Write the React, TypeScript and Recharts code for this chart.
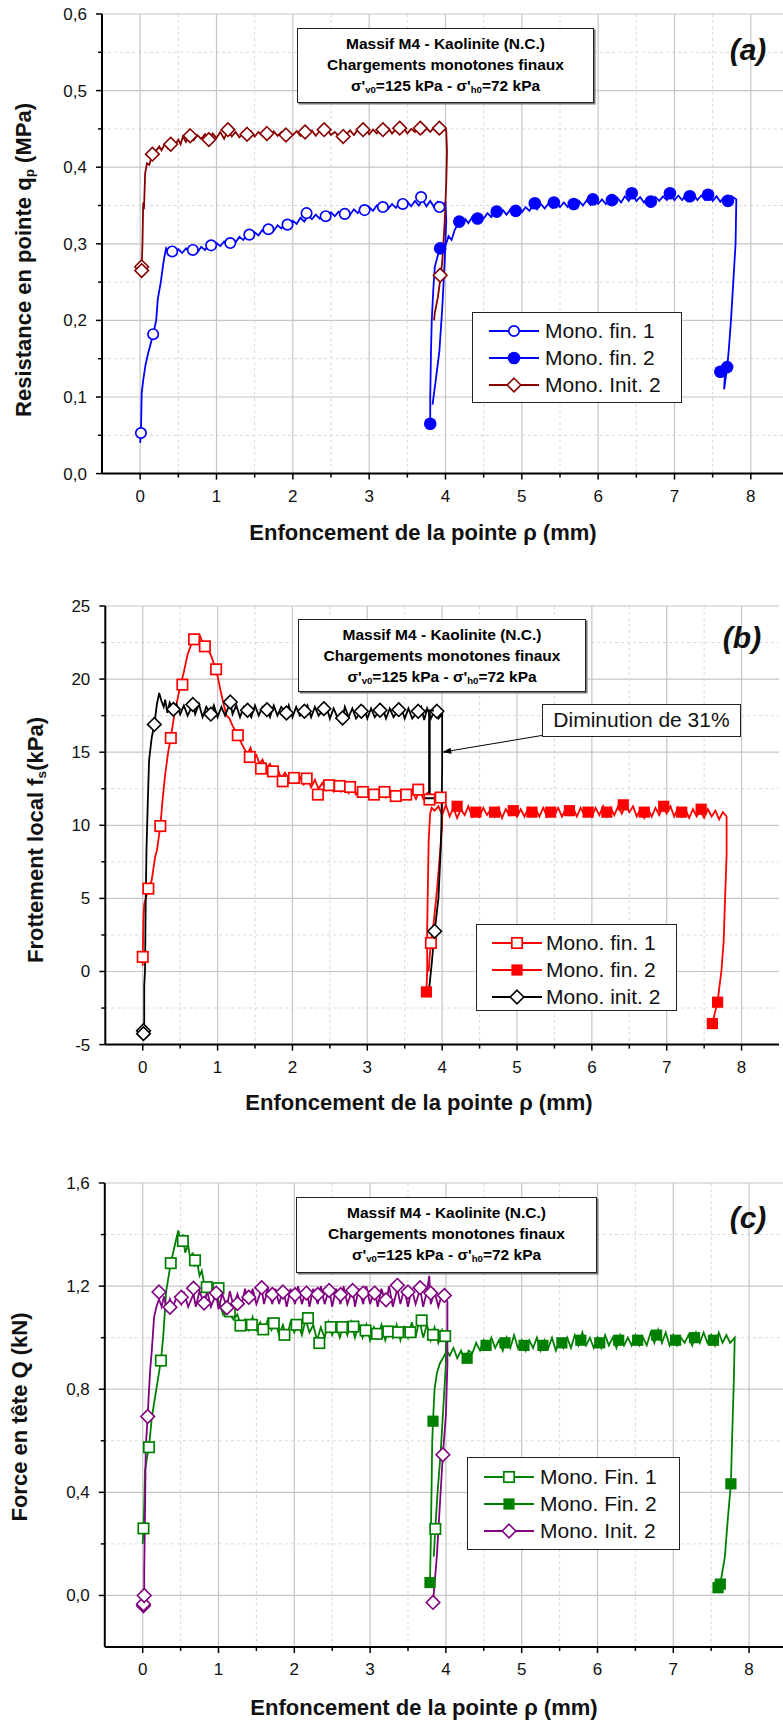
import React from "react";
import { CartesianGrid, ComposedChart, Line, XAxis, YAxis } from "recharts";

type Pt = [number, number];
type MarkKind = "circle" | "disc" | "square" | "block" | "diamond";

const FONT = '"Liberation Sans", Arial, sans-serif';

// shared x axis (enfoncement, mm)
const xDomain: [number, number] = [-0.5, 8.5];
const xMajor = [0, 1, 2, 3, 4, 5, 6, 7, 8];
const xMinor = [0.5, 1.5, 2.5, 3.5, 4.5, 5.5, 6.5, 7.5];

// ---------- (a) resistance en pointe qp (MPa)
const aYMajor = [0, 0.1, 0.2, 0.3, 0.4, 0.5, 0.6];
const aYMinor = [0.05, 0.15, 0.25, 0.35, 0.45, 0.55];

const aFin1Line: Pt[] = [
  [0.0, 0.04], [0.01, 0.053], [0.02, 0.105], [0.04, 0.122], [0.07, 0.142], [0.105, 0.157], [0.17, 0.182],
  [0.21, 0.2], [0.23, 0.227], [0.27, 0.25], [0.31, 0.279], [0.34, 0.294], [0.38, 0.287], [0.42, 0.292],
  [0.46, 0.286], [0.5, 0.293], [0.55, 0.288], [0.6, 0.294], [0.65, 0.289], [0.7, 0.295], [0.75, 0.289],
  [0.8, 0.296], [0.85, 0.292], [0.9, 0.298], [0.95, 0.294], [1.0, 0.301], [1.05, 0.297], [1.1, 0.303],
  [1.15, 0.299], [1.2, 0.306], [1.25, 0.302], [1.3, 0.309], [1.35, 0.305], [1.4, 0.312], [1.45, 0.308],
  [1.5, 0.315], [1.55, 0.311], [1.6, 0.318], [1.65, 0.314], [1.7, 0.321], [1.75, 0.317], [1.8, 0.324],
  [1.85, 0.32], [1.9, 0.327], [1.95, 0.322], [2.0, 0.33], [2.05, 0.326], [2.1, 0.334], [2.15, 0.329],
  [2.2, 0.337], [2.25, 0.332], [2.3, 0.338], [2.35, 0.333], [2.4, 0.34], [2.45, 0.335], [2.5, 0.341],
  [2.55, 0.336], [2.6, 0.342], [2.65, 0.337], [2.7, 0.343], [2.75, 0.338], [2.8, 0.345], [2.85, 0.34],
  [2.9, 0.346], [2.95, 0.342], [3.0, 0.348], [3.05, 0.343], [3.1, 0.35], [3.15, 0.344], [3.2, 0.351],
  [3.25, 0.346], [3.3, 0.352], [3.35, 0.347], [3.4, 0.354], [3.45, 0.348], [3.5, 0.355], [3.55, 0.349],
  [3.6, 0.356], [3.65, 0.35], [3.7, 0.357], [3.75, 0.349], [3.8, 0.356], [3.85, 0.348], [3.9, 0.355],
  [3.95, 0.349], [4.0, 0.354], [4.01, 0.33], [3.99, 0.28], [3.96, 0.22], [3.92, 0.16], [3.87, 0.12], [3.83, 0.09],
];
const aFin1Marks: Pt[] = [
  [0.01, 0.053], [0.17, 0.182], [0.42, 0.29], [0.69, 0.292], [0.93, 0.298], [1.18, 0.301], [1.43, 0.312],
  [1.68, 0.319], [1.93, 0.325], [2.18, 0.34], [2.43, 0.336], [2.68, 0.339], [2.94, 0.344], [3.18, 0.348],
  [3.44, 0.352], [3.68, 0.361], [3.92, 0.348],
];

const aFin2Line: Pt[] = [
  [3.8, 0.065], [3.8, 0.1], [3.81, 0.16], [3.82, 0.2], [3.84, 0.24], [3.86, 0.27], [3.9, 0.285], [3.93, 0.294],
  [3.97, 0.3], [4.0, 0.298], [4.04, 0.31], [4.08, 0.305], [4.12, 0.318], [4.18, 0.329], [4.22, 0.324],
  [4.26, 0.332], [4.3, 0.327], [4.35, 0.335], [4.4, 0.331], [4.45, 0.337], [4.5, 0.333], [4.55, 0.34],
  [4.6, 0.335], [4.65, 0.342], [4.7, 0.337], [4.75, 0.344], [4.8, 0.338], [4.85, 0.345], [4.9, 0.34],
  [4.95, 0.347], [5.0, 0.341], [5.05, 0.348], [5.1, 0.343], [5.15, 0.351], [5.2, 0.345], [5.25, 0.352],
  [5.3, 0.346], [5.35, 0.353], [5.4, 0.347], [5.45, 0.354], [5.5, 0.348], [5.55, 0.354], [5.6, 0.348],
  [5.65, 0.355], [5.7, 0.349], [5.75, 0.356], [5.8, 0.35], [5.85, 0.357], [5.9, 0.351], [5.95, 0.358],
  [6.0, 0.352], [6.05, 0.358], [6.1, 0.352], [6.15, 0.359], [6.2, 0.353], [6.25, 0.36], [6.3, 0.354],
  [6.35, 0.362], [6.4, 0.356], [6.45, 0.365], [6.5, 0.356], [6.55, 0.361], [6.6, 0.354], [6.65, 0.36],
  [6.7, 0.355], [6.75, 0.361], [6.8, 0.356], [6.85, 0.362], [6.9, 0.357], [6.95, 0.365], [7.0, 0.357],
  [7.05, 0.363], [7.1, 0.357], [7.15, 0.364], [7.2, 0.358], [7.25, 0.364], [7.3, 0.357], [7.35, 0.363],
  [7.4, 0.357], [7.45, 0.364], [7.5, 0.356], [7.55, 0.362], [7.6, 0.355], [7.65, 0.361], [7.7, 0.355],
  [7.75, 0.362], [7.81, 0.358], [7.8, 0.3], [7.77, 0.25], [7.74, 0.2], [7.71, 0.16], [7.69, 0.139],
  [7.65, 0.11], [7.66, 0.13], [7.6, 0.133],
];
const aFin2Marks: Pt[] = [
  [3.8, 0.065], [3.93, 0.294], [4.18, 0.329], [4.42, 0.333], [4.67, 0.342], [4.92, 0.343], [5.17, 0.353],
  [5.42, 0.354], [5.68, 0.352], [5.93, 0.358], [6.18, 0.357], [6.44, 0.366], [6.69, 0.355], [6.94, 0.366],
  [7.2, 0.362], [7.44, 0.364], [7.7, 0.356], [7.69, 0.139], [7.6, 0.133],
];

const aInit2Line: Pt[] = [
  [0.0, 0.265], [0.01, 0.27], [0.02, 0.268], [0.03, 0.3], [0.04, 0.354], [0.05, 0.345], [0.065, 0.392],
  [0.09, 0.405], [0.12, 0.403], [0.16, 0.417], [0.2, 0.42], [0.25, 0.427], [0.28, 0.422], [0.32, 0.43],
  [0.36, 0.425], [0.4, 0.432], [0.45, 0.428], [0.5, 0.436], [0.53, 0.43], [0.56, 0.44], [0.6, 0.433],
  [0.65, 0.441], [0.7, 0.435], [0.75, 0.442], [0.8, 0.437], [0.85, 0.443], [0.9, 0.436], [0.95, 0.444],
  [1.0, 0.438], [1.05, 0.446], [1.1, 0.437], [1.15, 0.448], [1.2, 0.44], [1.25, 0.446], [1.3, 0.439],
  [1.35, 0.445], [1.4, 0.442], [1.45, 0.447], [1.5, 0.44], [1.55, 0.446], [1.6, 0.441], [1.65, 0.445],
  [1.7, 0.439], [1.75, 0.447], [1.8, 0.441], [1.85, 0.446], [1.9, 0.44], [1.95, 0.445], [2.0, 0.442],
  [2.05, 0.447], [2.1, 0.441], [2.15, 0.446], [2.2, 0.443], [2.25, 0.448], [2.3, 0.441], [2.35, 0.447],
  [2.4, 0.443], [2.45, 0.449], [2.5, 0.442], [2.55, 0.446], [2.6, 0.441], [2.65, 0.447], [2.7, 0.443],
  [2.75, 0.448], [2.8, 0.442], [2.85, 0.449], [2.9, 0.444], [2.95, 0.45], [3.0, 0.443], [3.05, 0.449],
  [3.1, 0.444], [3.15, 0.45], [3.2, 0.445], [3.25, 0.451], [3.3, 0.444], [3.35, 0.45], [3.4, 0.445],
  [3.45, 0.452], [3.5, 0.444], [3.55, 0.45], [3.6, 0.446], [3.65, 0.452], [3.7, 0.445], [3.75, 0.451],
  [3.8, 0.446], [3.85, 0.452], [3.9, 0.445], [3.95, 0.451], [4.01, 0.448], [4.02, 0.42], [4.01, 0.38],
  [3.99, 0.33], [3.96, 0.28], [3.94, 0.26], [3.9, 0.23], [3.86, 0.21], [3.85, 0.2],
];
const aInit2Marks: Pt[] = [
  [0.02, 0.27], [0.02, 0.265], [0.16, 0.417], [0.4, 0.43], [0.655, 0.441], [0.9, 0.436], [1.15, 0.449],
  [1.4, 0.443], [1.66, 0.444], [1.91, 0.442], [2.16, 0.446], [2.41, 0.449], [2.66, 0.44], [2.92, 0.449],
  [3.18, 0.449], [3.4, 0.451], [3.67, 0.451], [3.92, 0.451], [3.93, 0.259],
];

// ---------- (b) frottement local fs (kPa)
const bYMajor = [-5, 0, 5, 10, 15, 20, 25];
const bYMinor = [-2.5, 2.5, 7.5, 12.5, 17.5, 22.5];

const bFin1Line: Pt[] = [
  [0.0, 0.4], [0.0, 1.0], [0.01, 3.7], [0.02, 4.6], [0.075, 5.67], [0.12, 6.24], [0.165, 7.83], [0.19, 8.3],
  [0.235, 9.95], [0.27, 12], [0.3, 13.5], [0.34, 15], [0.375, 16], [0.42, 17.5], [0.46, 18.5], [0.5, 19.5],
  [0.55, 20.5], [0.6, 21.7], [0.65, 22.4], [0.69, 22.9], [0.72, 22.5], [0.76, 23.0], [0.8, 22.5],
  [0.84, 22.4], [0.88, 22.0], [0.92, 21.5], [0.96, 20.9], [1.0, 20.2], [1.04, 19.2], [1.08, 18.3],
  [1.12, 17.5], [1.16, 17.3], [1.2, 16.8], [1.27, 16.2], [1.32, 15.6], [1.36, 15.2], [1.4, 14.9],
  [1.44, 15.3], [1.48, 14.5], [1.52, 14.8], [1.56, 14.2], [1.6, 14.5], [1.65, 13.9], [1.7, 14.2],
  [1.75, 13.6], [1.8, 13.9], [1.85, 13.2], [1.9, 13.6], [1.95, 13.1], [2.0, 13.5], [2.05, 12.9],
  [2.1, 13.3], [2.15, 12.8], [2.2, 13.2], [2.25, 12.6], [2.3, 13.1], [2.35, 12.5], [2.4, 12.9],
  [2.45, 12.4], [2.5, 12.8], [2.55, 12.3], [2.6, 12.7], [2.65, 12.3], [2.7, 12.7], [2.75, 12.2],
  [2.8, 12.6], [2.85, 12.1], [2.9, 12.5], [2.95, 12.1], [3.0, 12.5], [3.05, 12.0], [3.1, 12.4],
  [3.15, 12.0], [3.2, 12.4], [3.25, 11.9], [3.3, 12.4], [3.35, 11.9], [3.4, 12.3], [3.45, 11.9],
  [3.5, 12.3], [3.55, 11.8], [3.6, 12.3], [3.65, 11.8], [3.7, 12.4], [3.75, 11.8], [3.8, 12.2],
  [3.85, 11.7], [3.9, 12.1], [3.95, 11.8], [4.0, 11.9], [4.0, 10], [3.97, 8], [3.93, 5.5], [3.89, 3.5],
  [3.85, 1.95], [3.83, 0.8], [3.82, 0],
];
const bFin1Marks: Pt[] = [
  [0.0, 1.0], [0.075, 5.67], [0.235, 9.95], [0.375, 15.97], [0.53, 19.62], [0.686, 22.72], [0.83, 22.24],
  [0.98, 20.67], [1.27, 16.16], [1.43, 14.67], [1.58, 13.88], [1.74, 13.69], [1.87, 13.01], [2.02, 13.24],
  [2.19, 13.2], [2.34, 12.1], [2.49, 12.74], [2.63, 12.69], [2.77, 12.62], [2.94, 12.28], [3.09, 12.1],
  [3.23, 12.28], [3.38, 12.0], [3.52, 12.1], [3.68, 12.44], [3.83, 11.76], [3.98, 11.9], [3.85, 1.95],
];

const bFin2Line: Pt[] = [
  [3.79, -1.4], [3.8, 0], [3.8, 3], [3.81, 6], [3.82, 9], [3.84, 10.8], [3.86, 11.2], [3.9, 11.0],
  [3.95, 11.3], [4.0, 10.7], [4.05, 11.4], [4.1, 10.6], [4.15, 11.2], [4.2, 10.5], [4.25, 11.1],
  [4.3, 10.7], [4.35, 11.3], [4.4, 10.6], [4.45, 11.1], [4.5, 10.6], [4.55, 11.2], [4.6, 10.7],
  [4.65, 11.1], [4.7, 10.6], [4.75, 11.2], [4.8, 10.5], [4.85, 11.1], [4.9, 10.7], [4.95, 11.2],
  [5.0, 10.6], [5.05, 11.1], [5.1, 10.6], [5.15, 11.2], [5.2, 10.7], [5.25, 11.1], [5.3, 10.6],
  [5.35, 11.2], [5.4, 10.6], [5.45, 11.1], [5.5, 10.7], [5.55, 11.2], [5.6, 10.6], [5.65, 11.1],
  [5.7, 10.7], [5.75, 11.2], [5.8, 10.6], [5.85, 11.2], [5.9, 10.7], [5.95, 11.1], [6.0, 10.6],
  [6.05, 11.2], [6.1, 10.7], [6.15, 11.3], [6.2, 10.6], [6.25, 11.2], [6.3, 10.7], [6.35, 11.3],
  [6.4, 10.8], [6.45, 11.4], [6.5, 10.9], [6.55, 11.3], [6.6, 10.6], [6.65, 11.1], [6.7, 10.5],
  [6.75, 11.1], [6.8, 10.6], [6.85, 11.2], [6.9, 10.7], [6.95, 11.3], [7.0, 10.8], [7.05, 11.3],
  [7.1, 10.6], [7.15, 11.2], [7.2, 10.6], [7.25, 11.1], [7.3, 10.5], [7.35, 11.1], [7.4, 10.6],
  [7.45, 11.0], [7.5, 10.5], [7.55, 11.1], [7.6, 10.6], [7.65, 11.0], [7.7, 10.4], [7.75, 10.9],
  [7.8, 10.6], [7.8, 8], [7.78, 5], [7.76, 2], [7.73, 0], [7.7, -1.2], [7.68, -2.1], [7.64, -2.9],
  [7.61, -3.56],
];
const bFin2Marks: Pt[] = [
  [3.79, -1.4], [4.2, 11.3], [4.45, 10.9], [4.7, 10.9], [4.95, 11.0], [5.2, 10.9], [5.45, 10.9],
  [5.7, 11.0], [5.95, 10.9], [6.2, 10.9], [6.42, 11.4], [6.7, 10.9], [6.96, 11.3], [7.2, 10.9],
  [7.46, 11.1], [7.68, -2.1], [7.61, -3.56],
];

const bInit2Line: Pt[] = [
  [0.01, -4.25], [0.02, -3.45], [0.02, -1], [0.03, 0], [0.04, 4.87], [0.05, 8.3], [0.07, 12],
  [0.085, 14.45], [0.12, 16], [0.155, 16.9], [0.19, 18.3], [0.22, 19.05], [0.25, 18.5], [0.28, 18.1],
  [0.3, 18.6], [0.33, 17.7], [0.36, 18.4], [0.41, 17.93], [0.45, 18.3], [0.5, 17.6], [0.55, 18.2],
  [0.6, 17.5], [0.67, 18.26], [0.7, 17.6], [0.75, 18.3], [0.8, 17.4], [0.85, 18.1], [0.91, 17.6],
  [0.95, 18.2], [1.0, 17.4], [1.05, 18.1], [1.1, 17.5], [1.17, 18.43], [1.2, 17.6], [1.25, 18.2],
  [1.3, 17.4], [1.35, 18.1], [1.4, 17.87], [1.45, 17.4], [1.5, 18.2], [1.55, 17.5], [1.6, 18.1],
  [1.66, 17.91], [1.7, 17.4], [1.75, 18.2], [1.8, 17.5], [1.85, 18.1], [1.92, 17.68], [1.95, 18.2],
  [2.0, 17.4], [2.05, 18.1], [2.1, 17.5], [2.16, 17.8], [2.2, 18.2], [2.25, 17.4], [2.3, 18.1],
  [2.35, 17.5], [2.42, 17.98], [2.45, 18.2], [2.5, 17.3], [2.55, 18.0], [2.6, 17.4], [2.67, 17.34],
  [2.7, 18.1], [2.75, 17.4], [2.8, 18.0], [2.85, 17.3], [2.92, 17.8], [2.95, 18.1], [3.0, 17.3],
  [3.05, 18.0], [3.1, 17.4], [3.17, 17.87], [3.2, 18.1], [3.25, 17.3], [3.3, 18.0], [3.35, 17.4],
  [3.42, 17.91], [3.45, 18.1], [3.5, 17.3], [3.55, 18.0], [3.6, 17.3], [3.68, 17.8], [3.72, 18.1],
  [3.76, 17.2], [3.8, 18.0], [3.85, 17.3], [3.9, 17.9], [3.95, 17.3], [4.0, 17.6], [4.0, 14],
  [3.99, 10], [3.98, 8.3], [3.95, 5], [3.9, 2.75], [3.86, 0.5], [3.83, -1.0], [3.82, -1.6],
];
const bInit2Marks: Pt[] = [
  [0.01, -4.05], [0.01, -4.25], [0.155, 16.9], [0.41, 17.93], [0.67, 18.26], [0.91, 17.6], [1.17, 18.43],
  [1.4, 17.87], [1.66, 17.91], [1.92, 17.68], [2.16, 17.8], [2.42, 17.98], [2.67, 17.34], [2.92, 17.8],
  [3.17, 17.87], [3.42, 17.91], [3.68, 17.8], [3.93, 17.8], [3.9, 2.75],
];

// drop from init.2 plateau to fin.1 level, and the leader of its label
const bDropBar: Pt[] = [[3.83, 17.85], [3.83, 11.85]];
const bLeader: Pt[] = [[5.34, 16.15], [4.0, 15.0]];

// ---------- (c) force en tete Q (kN)
const cYMajor = [0, 0.4, 0.8, 1.2, 1.6];
const cYMinor = [0.2, 0.6, 1.0, 1.4];

const cFin1Line: Pt[] = [
  [0.0, 0.2], [0.01, 0.26], [0.02, 0.35], [0.03, 0.484], [0.06, 0.54], [0.083, 0.575], [0.12, 0.69],
  [0.18, 0.8], [0.24, 0.911], [0.27, 1.0], [0.31, 1.18], [0.37, 1.289], [0.41, 1.34], [0.44, 1.38],
  [0.47, 1.416], [0.5, 1.37], [0.53, 1.4], [0.56, 1.33], [0.6, 1.36], [0.63, 1.3], [0.66, 1.33],
  [0.69, 1.28], [0.72, 1.29], [0.75, 1.24], [0.78, 1.26], [0.81, 1.21], [0.845, 1.196], [0.88, 1.18],
  [0.91, 1.2], [0.94, 1.15], [0.97, 1.19], [1.0, 1.14], [1.03, 1.12], [1.06, 1.09], [1.1, 1.12],
  [1.15, 1.09], [1.2, 1.07], [1.25, 1.09], [1.3, 1.04], [1.35, 1.07], [1.4, 1.03], [1.45, 1.08],
  [1.5, 1.03], [1.55, 1.06], [1.6, 1.02], [1.65, 1.07], [1.7, 1.03], [1.75, 1.06], [1.8, 1.01],
  [1.85, 1.05], [1.9, 1.0], [1.95, 1.06], [2.0, 1.02], [2.05, 1.06], [2.1, 1.01], [2.15, 1.07],
  [2.2, 1.02], [2.25, 1.05], [2.3, 0.99], [2.35, 1.04], [2.4, 1.0], [2.45, 1.06], [2.5, 1.01],
  [2.55, 1.05], [2.6, 1.0], [2.65, 1.05], [2.7, 1.01], [2.75, 1.06], [2.8, 1.0], [2.85, 1.05],
  [2.9, 1.0], [2.95, 1.05], [3.0, 0.99], [3.05, 1.04], [3.1, 1.0], [3.15, 1.05], [3.2, 0.99],
  [3.25, 1.04], [3.3, 1.0], [3.35, 1.05], [3.4, 0.99], [3.45, 1.04], [3.5, 1.0], [3.55, 1.06],
  [3.6, 1.0], [3.65, 1.07], [3.7, 1.0], [3.75, 1.05], [3.8, 0.99], [3.85, 1.04], [3.9, 0.98],
  [3.95, 1.03], [4.0, 1.0], [4.0, 0.9], [3.97, 0.75], [3.93, 0.55], [3.89, 0.4], [3.86, 0.258], [3.84, 0.15],
];
const cFin1Marks: Pt[] = [
  [0.01, 0.26], [0.083, 0.575], [0.24, 0.911], [0.37, 1.289], [0.53, 1.375], [0.69, 1.3], [0.845, 1.196],
  [1.0, 1.192], [1.15, 1.102], [1.29, 1.047], [1.44, 1.05], [1.59, 1.032], [1.73, 1.056], [1.87, 1.011],
  [2.03, 1.05], [2.18, 1.076], [2.33, 0.979], [2.48, 1.041], [2.63, 1.041], [2.78, 1.043], [2.94, 1.028],
  [3.09, 1.015], [3.24, 1.024], [3.37, 1.021], [3.53, 1.021], [3.68, 1.067], [3.83, 1.011], [3.99, 1.006],
  [3.86, 0.258],
];

const cFin2Line: Pt[] = [
  [3.79, 0.05], [3.8, 0.2], [3.81, 0.4], [3.82, 0.6], [3.83, 0.676], [3.85, 0.8], [3.88, 0.86],
  [3.92, 0.9], [3.96, 0.92], [4.01, 0.95], [4.05, 0.93], [4.1, 0.96], [4.15, 0.92], [4.2, 0.95],
  [4.25, 0.91], [4.3, 0.95], [4.35, 0.94], [4.4, 0.98], [4.45, 0.95], [4.5, 0.99], [4.55, 0.96],
  [4.6, 1.0], [4.65, 0.96], [4.7, 0.99], [4.75, 0.95], [4.8, 1.0], [4.85, 0.96], [4.9, 1.01],
  [4.95, 0.96], [5.0, 0.99], [5.05, 0.95], [5.1, 0.99], [5.15, 0.96], [5.2, 1.0], [5.25, 0.95],
  [5.3, 0.99], [5.35, 0.96], [5.4, 1.0], [5.45, 0.95], [5.5, 0.99], [5.55, 0.96], [5.6, 1.0],
  [5.65, 0.96], [5.7, 1.01], [5.75, 0.97], [5.8, 1.02], [5.85, 0.97], [5.9, 1.0], [5.95, 0.96],
  [6.0, 1.0], [6.05, 0.96], [6.1, 1.01], [6.15, 0.97], [6.2, 1.0], [6.25, 0.96], [6.3, 1.01],
  [6.35, 0.97], [6.4, 1.0], [6.45, 0.97], [6.5, 1.01], [6.55, 0.97], [6.6, 1.0], [6.65, 0.97],
  [6.7, 1.02], [6.75, 0.98], [6.8, 1.03], [6.85, 0.98], [6.9, 1.02], [6.95, 0.97], [7.0, 1.01],
  [7.05, 0.97], [7.1, 1.0], [7.15, 0.98], [7.2, 1.01], [7.25, 0.97], [7.3, 1.02], [7.35, 0.98],
  [7.4, 1.02], [7.45, 0.98], [7.5, 1.01], [7.55, 0.97], [7.6, 1.02], [7.65, 0.98], [7.7, 1.01],
  [7.75, 0.98], [7.81, 1.0], [7.8, 0.85], [7.78, 0.65], [7.77, 0.55], [7.76, 0.433], [7.72, 0.3],
  [7.68, 0.15], [7.62, 0.044], [7.59, 0.03],
];
const cFin2Marks: Pt[] = [
  [3.79, 0.05], [3.83, 0.676], [4.28, 0.92], [4.53, 0.97], [4.78, 0.98], [5.03, 0.97], [5.28, 0.97],
  [5.53, 0.98], [5.78, 0.99], [6.03, 0.98], [6.28, 0.99], [6.53, 0.99], [6.78, 1.01], [7.03, 0.99],
  [7.28, 1.0], [7.53, 0.99], [7.76, 0.433], [7.62, 0.044], [7.59, 0.03],
];

const cInit2Line: Pt[] = [
  [0.01, -0.04], [0.01, -0.033], [0.02, 0.0], [0.02, 0.1], [0.03, 0.3], [0.04, 0.575], [0.066, 0.694],
  [0.08, 0.78], [0.1, 0.88], [0.12, 0.95], [0.15, 1.08], [0.18, 1.118], [0.215, 1.15], [0.25, 1.12],
  [0.28, 1.16], [0.32, 1.11], [0.36, 1.15], [0.4, 1.12], [0.45, 1.16], [0.51, 1.13], [0.55, 1.17],
  [0.6, 1.12], [0.67, 1.17], [0.7, 1.12], [0.75, 1.18], [0.81, 1.13], [0.85, 1.18], [0.9, 1.12],
  [0.97, 1.17], [1.0, 1.11], [1.05, 1.17], [1.11, 1.12], [1.15, 1.18], [1.2, 1.12], [1.25, 1.17],
  [1.3, 1.12], [1.35, 1.19], [1.4, 1.13], [1.45, 1.19], [1.5, 1.13], [1.57, 1.19], [1.6, 1.13],
  [1.65, 1.19], [1.71, 1.13], [1.75, 1.19], [1.8, 1.13], [1.85, 1.19], [1.9, 1.12], [1.95, 1.19],
  [2.01, 1.13], [2.05, 1.2], [2.1, 1.13], [2.16, 1.19], [2.2, 1.12], [2.25, 1.19], [2.31, 1.13],
  [2.35, 1.2], [2.4, 1.13], [2.46, 1.19], [2.5, 1.12], [2.55, 1.19], [2.61, 1.13], [2.65, 1.2],
  [2.7, 1.13], [2.77, 1.19], [2.8, 1.12], [2.85, 1.19], [2.91, 1.13], [2.95, 1.2], [3.0, 1.13],
  [3.06, 1.19], [3.1, 1.12], [3.15, 1.19], [3.21, 1.13], [3.25, 1.2], [3.3, 1.12], [3.36, 1.19],
  [3.4, 1.13], [3.45, 1.19], [3.5, 1.12], [3.55, 1.19], [3.6, 1.13], [3.66, 1.19], [3.7, 1.12],
  [3.75, 1.18], [3.78, 1.24], [3.8, 1.13], [3.85, 1.18], [3.9, 1.12], [3.95, 1.17], [4.02, 1.14],
  [4.02, 0.9], [4.0, 0.7], [3.96, 0.546], [3.92, 0.35], [3.88, 0.15], [3.83, -0.027],
];
const cInit2Marks: Pt[] = [
  [0.01, -0.04], [0.01, -0.033], [0.02, 0.0], [0.066, 0.694], [0.215, 1.177], [0.36, 1.118], [0.51, 1.157],
  [0.67, 1.192], [0.81, 1.134], [0.97, 1.173], [1.11, 1.116], [1.25, 1.132], [1.4, 1.157], [1.57, 1.194],
  [1.71, 1.168], [1.85, 1.177], [2.01, 1.167], [2.16, 1.173], [2.31, 1.168], [2.46, 1.183], [2.61, 1.167],
  [2.77, 1.183], [2.91, 1.173], [3.06, 1.173], [3.21, 1.147], [3.36, 1.203], [3.5, 1.177], [3.66, 1.194],
  [3.8, 1.173], [3.98, 1.164], [3.96, 0.546], [3.83, -0.027],
];

// ---------- helpers
interface SeriesDef {
  name: string;
  line: Pt[];
  marks: Pt[];
  color: string;
  kind: MarkKind;
}

const rows = (p: Pt[]) => p.map(([x, y]) => ({ x, y }));
const comma = (v: number) => v.toFixed(1).replace(".", ",");
const plain = (v: number) => String(v);

function Marker({ kind, color, cx, cy }: { kind: MarkKind; color: string; cx: number; cy: number }) {
  if (cx == null || cy == null || isNaN(cx) || isNaN(cy)) return <g />;
  switch (kind) {
    case "circle":
      return <circle cx={cx} cy={cy} r={5.2} fill="#fff" stroke={color} strokeWidth={1.7} />;
    case "disc":
      return <circle cx={cx} cy={cy} r={6.3} fill={color} />;
    case "square":
      return <rect x={cx - 5.2} y={cy - 5.2} width={10.4} height={10.4} fill="#fff" stroke={color} strokeWidth={1.7} />;
    case "block":
      return <rect x={cx - 5.6} y={cy - 5.6} width={11.2} height={11.2} fill={color} />;
    default:
      return (
        <polygon
          points={`${cx},${cy - 6.8} ${cx + 6.8},${cy} ${cx},${cy + 6.8} ${cx - 6.8},${cy}`}
          fill="#fff"
          stroke={color}
          strokeWidth={1.6}
        />
      );
  }
}

const isIn = (list: number[], v: number) => list.some((m) => Math.abs(m - v) < 1e-9);

function XTick(props: any) {
  const { x, y, payload } = props;
  const major = isIn(xMajor, payload.value);
  return (
    <g>
      <line x1={x} x2={x} y1={y} y2={y + (major ? 6 : 4)} stroke="#000" strokeWidth={1.5} />
      {major && (
        <text x={x} y={y + 22} dy="0.35em" textAnchor="middle" fontSize={17} fill="#111" fontFamily={FONT}>
          {payload.value}
        </text>
      )}
    </g>
  );
}

function YTick(props: any) {
  const { x, y, payload, majors, fmt } = props;
  const major = isIn(majors, payload.value);
  return (
    <g>
      <line x1={x} x2={x - (major ? 6 : 4)} y1={y} y2={y} stroke="#000" strokeWidth={1.5} />
      {major && (
        <text x={x - 15} y={y} dy="0.35em" textAnchor="end" fontSize={17} fill="#111" fontFamily={FONT}>
          {fmt(payload.value)}
        </text>
      )}
    </g>
  );
}

function RTick(props: any) {
  const { x, y, payload, majors } = props;
  const major = isIn(majors, payload.value);
  return <line x1={x} x2={x - (major ? 6 : 4)} y1={y} y2={y} stroke="#000" strokeWidth={1.5} />;
}

interface Box {
  left: number;
  top: number;
  right: number;
  bottom: number;
}

const PAD_T = 10;
const PAD_R = 10;
const AX_W = 70;
const AX_H = 50;

function Panel({
  box,
  yDomain,
  yMajor,
  yMinor,
  fmt,
  series,
  extra,
}: {
  box: Box;
  yDomain: [number, number];
  yMajor: number[];
  yMinor: number[];
  fmt: (v: number) => string;
  series: SeriesDef[];
  extra?: React.ReactNode;
}) {
  const w = box.right + PAD_R;
  const h = box.bottom - box.top + PAD_T + AX_H;
  const yTicks = [...yMajor, ...yMinor];
  return (
    <div style={{ position: "absolute", left: 0, top: box.top - PAD_T }}>
      <ComposedChart width={w} height={h} margin={{ top: PAD_T, right: PAD_R, left: box.left - AX_W, bottom: 0 }}>
        <CartesianGrid verticalValues={xMinor} horizontalValues={yMinor} stroke="#d9d9d9" strokeDasharray="3 3" />
        <CartesianGrid verticalValues={xMajor} horizontalValues={yMajor} stroke="#c6c6c6" strokeWidth={1.2} />
        <XAxis
          dataKey="x"
          type="number"
          domain={xDomain}
          ticks={[...xMajor, ...xMinor]}
          interval={0}
          allowDataOverflow
          height={AX_H}
          tickSize={0}
          tickMargin={0}
          tickLine={false}
          axisLine={{ stroke: "#000", strokeWidth: 2 }}
          tick={(p: any) => <XTick {...p} />}
        />
        <XAxis
          xAxisId="top"
          orientation="top"
          dataKey="x"
          type="number"
          domain={xDomain}
          allowDataOverflow
          height={0}
          tick={false}
          tickLine={false}
          axisLine={{ stroke: "#000", strokeWidth: 2 }}
        />
        <YAxis
          type="number"
          domain={yDomain}
          ticks={yTicks}
          interval={0}
          allowDataOverflow
          width={AX_W}
          tickSize={0}
          tickMargin={0}
          tickLine={false}
          axisLine={{ stroke: "#000", strokeWidth: 2 }}
          tick={(p: any) => <YTick {...p} majors={yMajor} fmt={fmt} />}
        />
        <YAxis
          yAxisId="right"
          orientation="right"
          type="number"
          domain={yDomain}
          ticks={yTicks}
          interval={0}
          allowDataOverflow
          width={0}
          tickSize={0}
          tickMargin={0}
          tickLine={false}
          axisLine={{ stroke: "#000", strokeWidth: 2 }}
          tick={(p: any) => <RTick {...p} majors={yMajor} />}
        />
        {series.map((s, i) => [
          <Line
            key={`l${i}`}
            data={rows(s.line)}
            dataKey="y"
            type="linear"
            stroke={s.color}
            strokeWidth={1.8}
            dot={false}
            activeDot={false}
            isAnimationActive={false}
          />,
          <Line
            key={`m${i}`}
            data={rows(s.marks)}
            dataKey="y"
            type="linear"
            stroke="none"
            strokeWidth={0}
            activeDot={false}
            isAnimationActive={false}
            dot={(p: any) => <Marker key={`d${i}-${p.index}`} kind={s.kind} color={s.color} cx={p.cx} cy={p.cy} />}
          />,
        ])}
        {extra}
      </ComposedChart>
    </div>
  );
}

function Centered({ x, y, rotate, style, children }: any) {
  return (
    <div
      style={{
        position: "absolute",
        left: x,
        top: y,
        transform: `translate(-50%, -50%)${rotate ? " rotate(-90deg)" : ""}`,
        whiteSpace: "nowrap",
        ...style,
      }}
    >
      {children}
    </div>
  );
}

const sub = { fontSize: "0.62em", verticalAlign: "-0.25em", lineHeight: 0 } as const;

function InfoBox({ left, top, width, height }: { left: number; top: number; width: number; height: number }) {
  return (
    <div
      style={{
        position: "absolute",
        left,
        top,
        width,
        height,
        boxSizing: "border-box",
        border: "1.5px solid #222",
        boxShadow: "1.5px 1.5px 0 #777",
        background: "#fff",
        fontWeight: 700,
        fontSize: 15.5,
        lineHeight: "21px",
        textAlign: "center",
        paddingTop: 4,
      }}
    >
      <div>Massif M4 - Kaolinite (N.C.)</div>
      <div>Chargements monotones finaux</div>
      <div>
        σ'<span style={sub}>v0</span>=125 kPa - σ'<span style={sub}>h0</span>=72 kPa
      </div>
    </div>
  );
}

function LegendBox({
  left,
  top,
  width,
  height,
  series,
  rowTop,
  sampleX,
  textX,
}: {
  left: number;
  top: number;
  width: number;
  height: number;
  series: SeriesDef[];
  rowTop: number;
  sampleX: number;
  textX: number;
}) {
  return (
    <div
      style={{
        position: "absolute",
        left,
        top,
        width,
        height,
        boxSizing: "border-box",
        border: "1.5px solid #222",
        background: "#fff",
      }}
    >
      {series.map((s, i) => (
        <div key={s.name} style={{ position: "absolute", left: 0, top: rowTop + i * 27 - 13, height: 26, width: "100%" }}>
          <svg style={{ position: "absolute", left: sampleX, top: 0 }} width={52} height={26}>
            <line x1={0} x2={50} y1={13} y2={13} stroke={s.color} strokeWidth={2} />
            <Marker kind={s.kind} color={s.color} cx={25} cy={13} />
          </svg>
          <span style={{ position: "absolute", left: textX, top: 0, lineHeight: "26px", fontSize: 21, color: "#111" }}>
            {s.name}
          </span>
        </div>
      ))}
    </div>
  );
}

const titleStyle = { fontWeight: 700, fontSize: 22, color: "#111" };
const tagStyle = { fontWeight: 700, fontStyle: "italic", fontSize: 30, color: "#111" };
const X_TITLE = "Enfoncement de la pointe ρ (mm)";

const aSeries: SeriesDef[] = [
  { name: "Mono. fin. 1", line: aFin1Line, marks: aFin1Marks, color: "#0000ff", kind: "circle" },
  { name: "Mono. fin. 2", line: aFin2Line, marks: aFin2Marks, color: "#0000ff", kind: "disc" },
  { name: "Mono. Init. 2", line: aInit2Line, marks: aInit2Marks, color: "#880000", kind: "diamond" },
];
const bSeries: SeriesDef[] = [
  { name: "Mono. fin. 1", line: bFin1Line, marks: bFin1Marks, color: "#ff0000", kind: "square" },
  { name: "Mono. fin. 2", line: bFin2Line, marks: bFin2Marks, color: "#ff0000", kind: "block" },
  { name: "Mono. init. 2", line: bInit2Line, marks: bInit2Marks, color: "#000000", kind: "diamond" },
];
const cSeries: SeriesDef[] = [
  { name: "Mono. Fin. 1", line: cFin1Line, marks: cFin1Marks, color: "#008000", kind: "square" },
  { name: "Mono. Fin. 2", line: cFin2Line, marks: cFin2Marks, color: "#008000", kind: "block" },
  { name: "Mono. Init. 2", line: cInit2Line, marks: cInit2Marks, color: "#800080", kind: "diamond" },
];

const bExtra = [
  <Line
    key="bar"
    data={rows(bDropBar)}
    dataKey="y"
    stroke="#000"
    strokeWidth={2.5}
    activeDot={false}
    isAnimationActive={false}
    dot={(p: any) => (
      <line key={`c${p.index}`} x1={p.cx - 4.5} x2={p.cx + 4.5} y1={p.cy} y2={p.cy} stroke="#000" strokeWidth={2} />
    )}
  />,
  <Line
    key="leader"
    data={rows(bLeader)}
    dataKey="y"
    stroke="#000"
    strokeWidth={1}
    activeDot={false}
    isAnimationActive={false}
    dot={(p: any) =>
      p.index === 1 ? (
        <polygon
          key="tip"
          points={`${p.cx},${p.cy} ${p.cx + 9.4},${p.cy + 1.5} ${p.cx + 8.4},${p.cy - 4.4}`}
          fill="#000"
        />
      ) : (
        <g key="start" />
      )
    }
  />,
];

export default function App() {
  return (
    <div
      style={{
        position: "absolute",
        left: 0,
        top: 0,
        width: 783,
        height: 1724,
        overflow: "hidden",
        background: "#fff",
        fontFamily: FONT,
      }}
    >
      {/* (a) */}
      <Panel
        box={{ left: 102, top: 14, right: 789, bottom: 473.6 }}
        yDomain={[0, 0.6]}
        yMajor={aYMajor}
        yMinor={aYMinor}
        fmt={comma}
        series={aSeries}
      />
      <Centered x={24} y={260} rotate style={titleStyle}>
        Resistance en pointe q<span style={sub}>p</span> (MPa)
      </Centered>
      <Centered x={423} y={533} style={titleStyle}>
        {X_TITLE}
      </Centered>
      <InfoBox left={297} top={28} width={297} height={75} />
      <Centered x={748} y={50} style={tagStyle}>
        (a)
      </Centered>
      <LegendBox left={472} top={312} width={210} height={91} series={aSeries} rowTop={18} sampleX={16} textX={72} />

      {/* (b) */}
      <Panel
        box={{ left: 105.3, top: 605.7, right: 779, bottom: 1044.3 }}
        yDomain={[-5, 25]}
        yMajor={bYMajor}
        yMinor={bYMinor}
        fmt={plain}
        series={bSeries}
        extra={bExtra}
      />
      <Centered x={36} y={840} rotate style={titleStyle}>
        Frottement local f<span style={sub}>s</span>(kPa)
      </Centered>
      <Centered x={419} y={1103} style={titleStyle}>
        {X_TITLE}
      </Centered>
      <InfoBox left={298} top={619} width={288} height={73} />
      <Centered x={742} y={638} style={tagStyle}>
        (b)
      </Centered>
      <div
        style={{
          position: "absolute",
          left: 542,
          top: 704,
          width: 199,
          height: 33,
          boxSizing: "border-box",
          border: "1.5px solid #222",
          background: "#fff",
          fontSize: 21,
          lineHeight: "30px",
          textAlign: "center",
          color: "#111",
        }}
      >
        Diminution de 31%
      </div>
      <LegendBox left={476} top={924} width={201} height={87} series={bSeries} rowTop={17.5} sampleX={15} textX={69} />

      {/* (c) */}
      <Panel
        box={{ left: 104.8, top: 1182.5, right: 787, bottom: 1646.5 }}
        yDomain={[-0.2, 1.6]}
        yMajor={cYMajor}
        yMinor={cYMinor}
        fmt={comma}
        series={cSeries}
      />
      <Centered x={20} y={1417} rotate style={titleStyle}>
        Force en tête Q (kN)
      </Centered>
      <Centered x={424} y={1708} style={titleStyle}>
        {X_TITLE}
      </Centered>
      <InfoBox left={296} top={1197} width={301} height={76} />
      <Centered x={748} y={1218} style={tagStyle}>
        (c)
      </Centered>
      <LegendBox left={467} top={1457} width={213} height={93} series={cSeries} rowTop={18.5} sampleX={16} textX={72} />
    </div>
  );
}
